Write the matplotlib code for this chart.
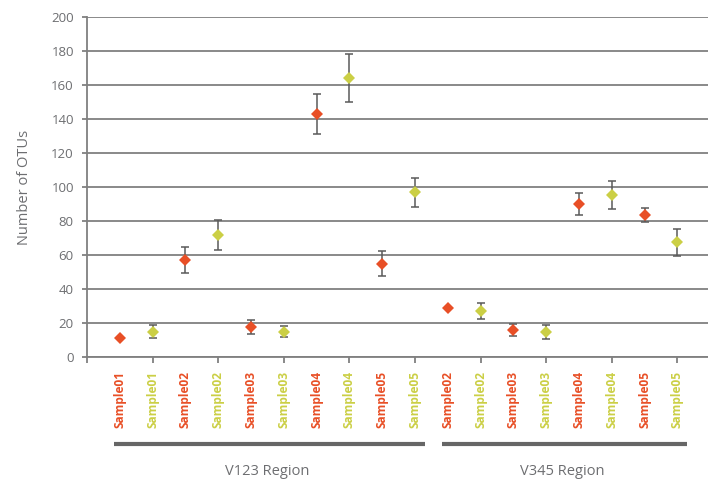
import numpy as np
import matplotlib
matplotlib.use("Agg")
import matplotlib.pyplot as plt
import matplotlib.transforms as mtransforms

# OTU counts per sample, grouped by sequenced region
samples = ["Sample01", "Sample01", "Sample02", "Sample02", "Sample03", "Sample03",
           "Sample04", "Sample04", "Sample05", "Sample05",
           "Sample02", "Sample02", "Sample03", "Sample03",
           "Sample04", "Sample04", "Sample05", "Sample05"]
kind = ["a", "b"] * 9          # a = red series, b = green series
otus = [11, 15, 57, 72, 17.5, 15, 143, 164, 55, 97,
        29, 27, 16, 14.5, 90, 95.5, 83.5, 67.5]
err = [0, 4, 7.5, 8.8, 4, 3.5, 12, 14, 7.5, 8.5,
       0, 4.5, 3.5, 4.2, 6.6, 8.3, 4.2, 7.8]
regions = ["V123 Region", "V345 Region"]
region_span = [(1, 10), (11, 18)]

red = "#e84f26"
green = "#cbcf45"
grey = "#6d6e71"
axis_grey = "#808080"

plt.rcParams["font.family"] = ["Open Sans", "DejaVu Sans"]

fig = plt.figure(figsize=(7.08, 4.79), dpi=100)
ax = fig.add_axes([87 / 708, 1 - 357 / 479, 1 - 87 / 708, 340 / 479])

x = np.arange(1, len(otus) + 1)
colors = [red if k == "a" else green for k in kind]

for xi, yi, ei, c in zip(x, otus, err, colors):
    if ei > 0:
        ax.errorbar(xi, yi, yerr=ei, fmt="none", ecolor="#5a5a5a",
                    elinewidth=1.1, capsize=2.6, capthick=1.1, zorder=3)
    ax.plot(xi, yi, marker="D", markersize=6.6, color=c,
            markeredgewidth=0, linestyle="none", zorder=4)

ax.set_xlim(0, 621 / 32.8)
ax.set_ylim(0, 200)
ax.set_yticks(np.arange(0, 201, 20))
ax.yaxis.grid(True, color=axis_grey, linewidth=1.3)
ax.set_axisbelow(True)
for s in ["top", "right"]:
    ax.spines[s].set_visible(False)
for s in ["left", "bottom"]:
    ax.spines[s].set_color(axis_grey)
    ax.spines[s].set_linewidth(1.3)

ax.tick_params(axis="y", colors=axis_grey, labelcolor=grey, labelsize=9.5,
               length=3.5, width=1.3, pad=6)

# labels under every category, tick marks every second one
ax.xaxis.remove_overlapping_locs = False
ax.set_xticks(x)
ax.set_xticklabels(samples, rotation=90, fontsize=8.6, fontweight="bold")
ax.tick_params(axis="x", which="major", length=0, pad=10)
for lbl, c in zip(ax.get_xticklabels(), colors):
    lbl.set_color(c)
ax.set_xticks(np.arange(0, 19, 2), minor=True)
ax.tick_params(axis="x", which="minor", colors=axis_grey, length=4, width=1.3)

ax.set_ylabel("Number of OTUs", color=grey, fontsize=10.5, labelpad=14)

# region brackets under the sample labels
trans = mtransforms.blended_transform_factory(ax.transData, ax.transAxes)
for name, (a, b) in zip(regions, region_span):
    ax.plot([a - 0.17, b + 0.3], [-0.256, -0.256], color="#666666",
            linewidth=3, transform=trans, clip_on=False,
            solid_capstyle="butt")
    ax.text((a + b) / 2, -0.336, name, transform=trans, ha="center",
            va="center", color=grey, fontsize=10.5)

fig.savefig("out.png", dpi=100)
